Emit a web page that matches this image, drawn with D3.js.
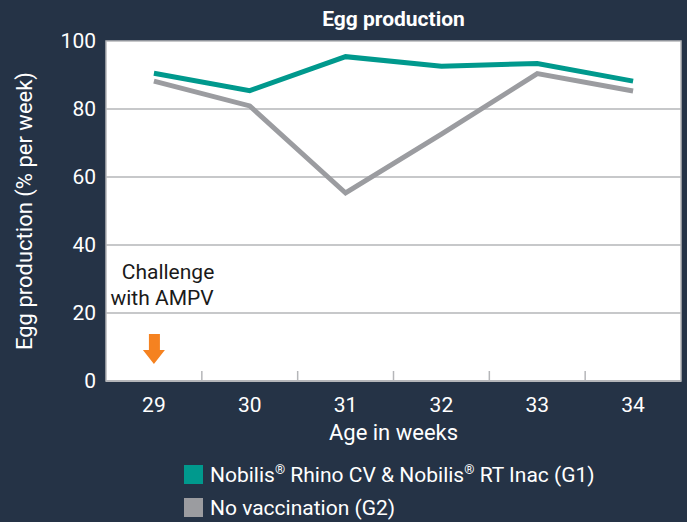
<!DOCTYPE html>
<html>
<head>
<meta charset="utf-8">
<script src="https://cdn.jsdelivr.net/npm/d3@7"></script>
<style>
  body { margin: 0; background: #253346; }
  text { font-family: Roboto, "Noto Sans", sans-serif; }
</style>
</head>
<body>
<svg id="plot"></svg>
<script>
// Data
const weeks = ['29', '30', '31', '32', '33', '34'];
const g1Values = [90.5, 85.4, 95.4, 92.6, 93.4, 88.2];
const g2Values = [88.2, 80.9, 55.3, 72.6, 90.4, 85.3];
const yTicks = [0, 20, 40, 60, 80, 100];
const seriesNames = [
  ['Nobilis', '\u00AE', ' Rhino CV & Nobilis', '\u00AE', ' RT Inac (G1)'],
  ['No vaccination (G2)']
];
const seriesColors = ['#00998d', '#9b9ca0'];

let width = 687, height = 522;
let margin = { top: 41, bottom: 141, left: 106, right: 6 };

let svg = d3.select('#plot')
  .attr('width', width)
  .attr('height', height)
  .style('background', '#253346');

let xScale = d3.scaleBand()
  .domain(weeks)
  .range([margin.left, width - margin.right])
  .padding(0);

let yScale = d3.scaleLinear()
  .domain([0, 100])
  .range([height - margin.bottom, margin.top]);

// plot background
svg.append('rect')
  .attr('x', margin.left)
  .attr('y', margin.top)
  .attr('width', width - margin.right - margin.left)
  .attr('height', height - margin.bottom - margin.top)
  .attr('fill', 'white')
  .attr('stroke', '#b5b6b9')
  .attr('stroke-width', 1.5);

// gridlines
svg.append('g')
  .selectAll('line')
  .data(yTicks.filter(d => d > 0 && d < 100))
  .enter()
  .append('line')
  .attr('x1', margin.left)
  .attr('x2', width - margin.right)
  .attr('y1', d => yScale(d))
  .attr('y2', d => yScale(d))
  .attr('stroke', '#b5b6b9')
  .attr('stroke-width', 1.5);

// y axis labels
svg.append('g')
  .selectAll('text')
  .data(yTicks)
  .enter()
  .append('text')
  .attr('x', margin.left - 10)
  .attr('y', d => yScale(d) + 7)
  .attr('text-anchor', 'end')
  .attr('fill', 'white')
  .style('font-size', '21px')
  .text(d => d);

// x axis: baseline + inward ticks at band edges
svg.append('line')
  .attr('x1', margin.left)
  .attr('x2', width - margin.right)
  .attr('y1', yScale(0))
  .attr('y2', yScale(0))
  .attr('stroke', '#b5b6b9')
  .attr('stroke-width', 2);

svg.append('g')
  .selectAll('line')
  .data(weeks.slice(1))
  .enter()
  .append('line')
  .attr('x1', d => xScale(d))
  .attr('x2', d => xScale(d))
  .attr('y1', yScale(0))
  .attr('y2', yScale(0) - 10)
  .attr('stroke', '#b5b6b9')
  .attr('stroke-width', 1.5);

svg.append('g')
  .selectAll('text')
  .data(weeks)
  .enter()
  .append('text')
  .attr('x', d => xScale(d) + xScale.bandwidth() / 2)
  .attr('y', yScale(0) + 31)
  .attr('text-anchor', 'middle')
  .attr('fill', 'white')
  .style('font-size', '21px')
  .text(d => d);

// axis titles
svg.append('text')
  .attr('x', (margin.left + width - margin.right) / 2)
  .attr('y', 440)
  .attr('text-anchor', 'middle')
  .attr('fill', 'white')
  .style('font-size', '22px')
  .text('Age in weeks');

svg.append('text')
  .attr('transform', `translate(32, ${yScale(50)}) rotate(-90)`)
  .attr('text-anchor', 'middle')
  .attr('fill', 'white')
  .style('font-size', '22px')
  .text('Egg production (% per week)');

svg.append('text')
  .attr('x', (margin.left + width - margin.right) / 2)
  .attr('y', 26)
  .attr('text-anchor', 'middle')
  .attr('fill', 'white')
  .style('font-size', '21px')
  .style('font-weight', 'bold')
  .text('Egg production');

// lines
let line = d3.line()
  .x((d, i) => xScale(weeks[i]) + xScale.bandwidth() / 2)
  .y(d => yScale(d));

[g2Values, g1Values].forEach((vals, k) => {
  svg.append('path')
    .datum(vals)
    .attr('d', line)
    .attr('fill', 'none')
    .attr('stroke', seriesColors[1 - k])
    .attr('stroke-width', 5);
});

// annotation
let ann = svg.append('text')
  .attr('fill', '#1a1a1a')
  .attr('text-anchor', 'middle')
  .style('font-size', '21px');
ann.append('tspan').attr('x', 168).attr('y', 279).text('Challenge');
ann.append('tspan').attr('x', 162).attr('y', 305).text('with AMPV');

let ax = xScale('29') + xScale.bandwidth() / 2;
svg.append('path')
  .attr('d', `M${ax - 5},334 L${ax + 6},334 L${ax + 6},350 L${ax + 11},350 L${ax},364 L${ax - 11},350 L${ax - 5},350 Z`)
  .attr('fill', '#f58220');

// legend
let legend = svg.append('g')
  .selectAll('g')
  .data(seriesNames)
  .enter()
  .append('g')
  .attr('transform', (d, i) => `translate(184, ${465 + i * 33})`);

legend.append('rect')
  .attr('width', 19)
  .attr('height', 19)
  .attr('fill', (d, i) => seriesColors[i]);

legend.append('text')
  .attr('x', 26)
  .attr('y', 17)
  .attr('fill', 'white')
  .style('font-size', '21px')
  .selectAll('tspan')
  .data(d => d)
  .enter()
  .append('tspan')
  .style('font-size', d => d === '\u00AE' ? '13px' : null)
  .attr('dy', d => d === '\u00AE' ? -8 : 0)
  .each(function(d, i, nodes) {
    // drop back to baseline after a superscript
    if (i > 0 && nodes[i - 1].__data__ === '\u00AE') d3.select(this).attr('dy', 8);
  })
  .text(d => d);
</script>
</body>
</html>
